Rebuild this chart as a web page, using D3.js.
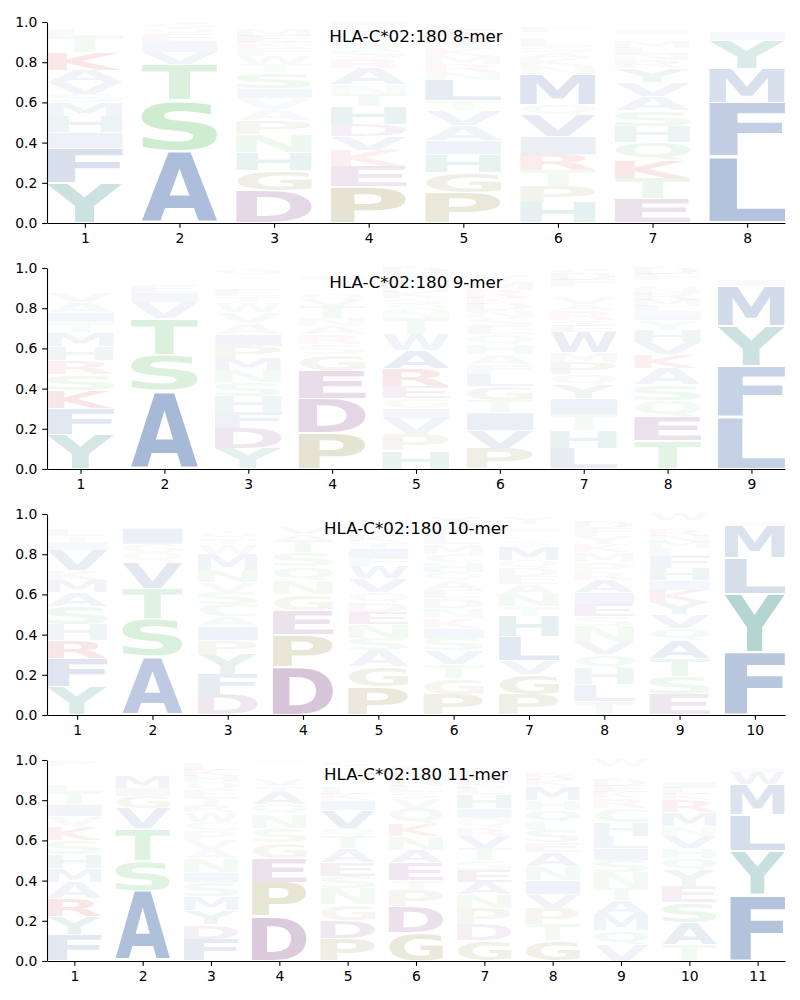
<!DOCTYPE html>
<html><head><meta charset="utf-8">
<script src="https://cdn.jsdelivr.net/npm/d3@7"></script>
<style>body{margin:0;background:#fff;} svg{display:block}</style>
</head><body>
<svg id="chart" width="800" height="1000"></svg>
<script>
// ---- DATA (letters listed bottom -> top for each position) ----
const titles = ["HLA-C*02:180 8-mer", "HLA-C*02:180 9-mer", "HLA-C*02:180 10-mer", "HLA-C*02:180 11-mer"];
const yTicks = [0, 0.2, 0.4, 0.6, 0.8, 1.0];

const letters8 = ["YFIHMSVAKTLWE","ASTVIEQG","DGHNPAVISTWFKEMLY","PEKVDHTNARSQLMGI","PGHIAVTLNRMKYSEDQ","HPTRIVQMNKASLEGFD","ETKQHSAVYRNLMGDIFP","LFMYIVWA"];
const probs8 = [
  [.20,.17,.08,.08,.07,.04,.06,.06,.09,.08,.03,.02,.02],
  [.36,.25,.18,.06,.05,.04,.03,.03],
  [.16,.10,.09,.09,.07,.055,.055,.05,.08,.04,.04,.04,.03,.03,.03,.02,.02],
  [.18,.10,.08,.07,.06,.09,.06,.05,.08,.05,.04,.03,.03,.03,.03,.02],
  [.15,.10,.09,.07,.075,.075,.05,.10,.04,.04,.04,.04,.03,.03,.03,.02,.02],
  [.10,.08,.08,.08,.09,.11,.05,.15,.04,.04,.03,.03,.03,.02,.02,.03,.02],
  [.12,.10,.09,.09,.08,.08,.07,.07,.07,.04,.03,.03,.03,.02,.02,.02,.02,.02],
  [.33,.27,.17,.14,.04,.02,.015,.015]
];

const letters9 = ["YFKSRHMTIAVLQNEGD","ASTVIEQLGM","YDFHSNMPIAVWTERKLQG","PDEGSRANTVQLKMHIYF","HPVIGERAWTNQSKMLYD","PVITGLFAHQESNDKRMYWC","LHTIYQPMWESRAVKNGFDC","TEQSAKVHYILMRNGPFD","LFYMIVWA"];
const probs9 = [
  [.17,.13,.09,.08,.07,.07,.07,.05,.05,.05,.05,.02,.02,.02,.02,.02,.02],
  [.39,.18,.18,.08,.05,.03,.02,.02,.02,.01],
  [.10,.10,.08,.08,.07,.06,.06,.06,.06,.055,.055,.05,.03,.03,.02,.02,.02,.02,.03],
  [.18,.17,.14,.08,.05,.05,.04,.04,.06,.03,.03,.02,.02,.02,.01,.02,.02,.02],
  [.09,.08,.08,.05,.05,.06,.09,.09,.08,.08,.04,.03,.03,.03,.03,.03,.03,.03],
  [.10,.09,.09,.06,.07,.06,.05,.05,.05,.05,.04,.04,.04,.03,.03,.04,.04,.03,.02,.02],
  [.10,.09,.08,.08,.07,.05,.06,.05,.10,.03,.03,.05,.03,.03,.02,.02,.02,.03,.03,.03],
  [.14,.12,.08,.08,.08,.07,.06,.06,.05,.04,.03,.03,.03,.03,.02,.02,.03,.03],
  [.26,.25,.20,.20,.03,.02,.02,.02]
];

const letters10 = ["YFRHSAMKVITLQNEGD","ASTVQGILMEN","DFYPIACSVNMWTQEHKLG","DPEGNQSTAVKHRM","PGASNEDQVWFITKHYRML","PGTVSIKNDEAQHCMLFRYW","PGVLHTNAEDQMSKRIFYW","TLHQVNSEIARPMKYFDGW","ESTAQVYKIHFLMNRPGDW","FYLMIWVA"];
const probs10 = [
  [.14,.14,.09,.08,.09,.07,.06,.05,.10,.04,.03,.03,.02,.02,.01,.02,.01],
  [.29,.19,.15,.13,.05,.04,.08,.02,.01,.02,.02],
  [.10,.10,.10,.07,.07,.05,.06,.06,.05,.06,.08,.05,.03,.03,.02,.02,.02,.02,.01],
  [.24,.16,.12,.08,.07,.07,.07,.06,.03,.03,.02,.02,.02,.01],
  [.14,.10,.08,.06,.07,.06,.05,.05,.07,.06,.04,.05,.03,.03,.03,.02,.02,.02,.02],
  [.10,.08,.07,.07,.06,.05,.05,.05,.05,.04,.05,.04,.05,.04,.05,.04,.03,.03,.03,.02],
  [.10,.10,.07,.12,.10,.05,.06,.05,.04,.04,.04,.07,.03,.02,.02,.02,.02,.03,.02],
  [.07,.08,.08,.07,.06,.08,.05,.06,.06,.06,.04,.05,.05,.04,.04,.04,.03,.02,.02],
  [.10,.09,.09,.09,.06,.07,.06,.06,.05,.06,.06,.04,.03,.03,.03,.02,.02,.01,.03],
  [.31,.29,.18,.16,.02,.02,.01,.01]
];

const letters11 = ["FYRAMHSKVITLQNEGDP","ASTVGIMLQENK","FDYMSINAVPCWRTEQHKLG","DPEGSNQATVKRHMLI","PDGNSEATQVIKLHRMYFWC","GDPTEANKQVSLHRMIFY","GDPNAESTVRQIHLKMYFWC","GTPVINAESLQHMKRDFYW","VQMATNSILHCRKEDGPFYW","TASEYQHVNMRKLIDGPFWC","FYLMWIVA"];
const probs11 = [
  [.13,.09,.09,.08,.07,.07,.07,.07,.05,.06,.06,.03,.02,.02,.02,.02,.02,.03],
  [.35,.15,.16,.10,.06,.04,.06,.02,.01,.02,.02,.01],
  [.11,.07,.07,.07,.07,.05,.07,.045,.045,.05,.04,.05,.03,.04,.04,.04,.03,.03,.03,.02],
  [.22,.17,.12,.08,.07,.07,.05,.06,.03,.03,.02,.02,.02,.02,.01,.01],
  [.11,.09,.08,.08,.06,.07,.07,.06,.04,.09,.05,.03,.03,.02,.02,.02,.02,.01,.02,.03],
  [.14,.13,.08,.05,.09,.06,.07,.06,.08,.05,.03,.03,.03,.03,.02,.02,.01,.02],
  [.10,.08,.08,.07,.06,.06,.05,.06,.06,.04,.05,.05,.07,.03,.03,.03,.02,.02,.02,.02],
  [.10,.08,.08,.07,.07,.07,.07,.05,.06,.04,.06,.05,.07,.03,.03,.02,.02,.01,.02],
  [.08,.07,.08,.07,.06,.08,.06,.06,.06,.07,.07,.05,.03,.03,.03,.02,.02,.02,.01,.03],
  [.08,.11,.10,.08,.08,.06,.05,.06,.05,.07,.06,.03,.03,.03,.02,.02,.02,.01,.02,.02],
  [.33,.22,.18,.15,.06,.02,.02,.02]
];

// amino-acid colour groups
const groupColors = {
  hydrophobic: "#1a4a96",
  aromaticPolar: "#006e67",
  polar: "#37b343",
  acidic: "#610d65",
  basic: "#c80000",
  special: "#6f6400"
};
const groupLetters = {
  hydrophobic: "AFILMVW",
  aromaticPolar: "YH",
  polar: "STNQC",
  acidic: "DE",
  basic: "KR",
  special: "PG"
};

// ---- DRAWING ----
const aaColor = {};
Object.keys(groupLetters).forEach(g => {
  for (const ch of groupLetters[g]) aaColor[ch] = groupColors[g];
});

const panels = [
  {title: titles[0], letters: letters8, probs: probs8},
  {title: titles[1], letters: letters9, probs: probs9},
  {title: titles[2], letters: letters10, probs: probs10},
  {title: titles[3], letters: letters11, probs: probs11}
];

const svg = d3.select("#chart");
const left = 47, right = 785, panelH = 201, firstTop = 22, panelStep = 246;

const FONT = "bold 100px 'DejaVu Sans'";
const canvas = document.createElement("canvas");
const ctx = canvas.getContext("2d");
ctx.font = FONT;
const glyphCache = {};
function glyph(ch) {
  if (!glyphCache[ch]) {
    const m = ctx.measureText(ch);
    glyphCache[ch] = {l: m.actualBoundingBoxLeft, r: m.actualBoundingBoxRight,
                      a: m.actualBoundingBoxAscent, d: m.actualBoundingBoxDescent};
  }
  return glyphCache[ch];
}

const tickLen = 4.86;
const fontTick = 13.9;

panels.forEach((p, pi) => {
  const top = firstTop + pi * panelStep;
  const L = p.letters.length;
  const positions = d3.range(1, L + 1);
  const x = d3.scaleLinear().domain([0.6, L + 0.4]).range([left, right]);
  const y = d3.scaleLinear().domain([0, 1]).range([top + panelH, top]);
  const step = x(2) - x(1);
  const g = svg.append("g");

  // letters
  p.letters.forEach((str, i) => {
    let cum = 0;
    const pos = positions[i];
    [...str].forEach((ch, k) => {
      const v = p.probs[i][k];
      const y0 = y(cum), y1 = y(cum + v);
      cum += v;
      const hpx = y0 - y1;
      const pad = 0.025 * hpx;
      const ybot = y0 - pad, ytop = y1 + pad;
      const x0 = x(pos - 0.4), x1 = x(pos + 0.4);
      const gm = glyph(ch);
      const sx = (x1 - x0) / (gm.l + gm.r);
      const sy = (ybot - ytop) / (gm.a + gm.d);
      g.append("text")
        .attr("transform", `translate(${x0 + sx * gm.l},${ybot - sy * gm.d}) scale(${sx},${sy})`)
        .attr("font-family", "'DejaVu Sans'")
        .attr("font-weight", "bold")
        .attr("font-size", 100)
        .attr("fill", aaColor[ch] || "#888")
        .attr("fill-opacity", Math.min(1, v))
        .text(ch);
    });
  });

  // axes
  const ax = g.append("g").attr("transform", `translate(0,${top + panelH})`)
    .call(d3.axisBottom(x).tickValues(positions).tickFormat(d3.format("d"))
      .tickSize(tickLen).tickPadding(4.86).tickSizeOuter(0));
  const ay = g.append("g").attr("transform", `translate(${left},0)`)
    .call(d3.axisLeft(y).tickValues(yTicks).tickFormat(d3.format(".1f"))
      .tickSize(tickLen).tickPadding(4.86).tickSizeOuter(0));
  [ax, ay].forEach(a => {
    a.selectAll("path.domain").attr("stroke", "#000").attr("stroke-width", 1.1);
    a.selectAll(".tick line").attr("stroke", "#000").attr("stroke-width", 1.1);
    a.selectAll(".tick text").attr("font-family", "'DejaVu Sans'")
      .attr("font-size", fontTick).attr("fill", "#000");
  });

  // title
  g.append("text")
    .attr("x", (left + right) / 2)
    .attr("y", top + 20)
    .attr("text-anchor", "middle")
    .attr("font-family", "'DejaVu Sans'")
    .attr("font-size", 16.7)
    .attr("fill", "#000")
    .text(p.title);
});
</script>
</body></html>
